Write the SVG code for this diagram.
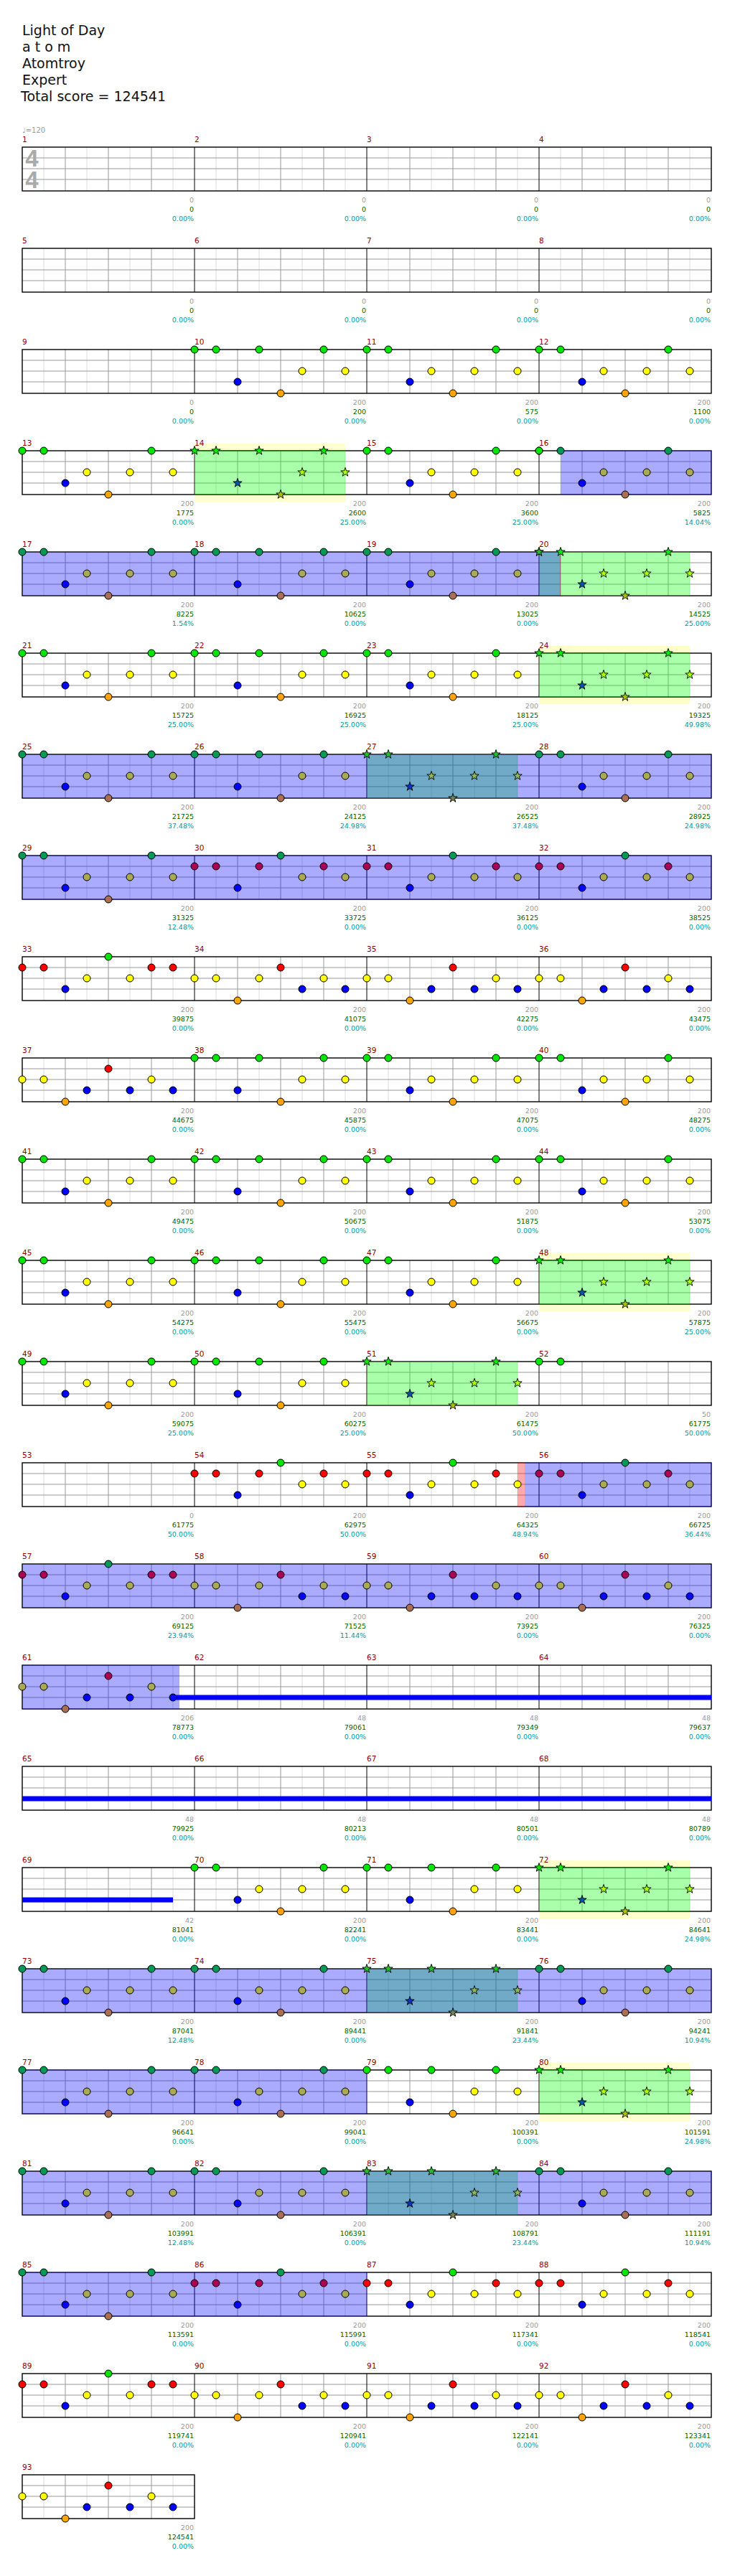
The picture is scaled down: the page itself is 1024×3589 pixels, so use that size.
<svg xmlns="http://www.w3.org/2000/svg" width="1024" height="3589" viewBox="0 0 1024 3589">
<style>
svg{--g:#00e600;--r:#ff0000;--y:#ffff00;--b:#0000ff;--o:#ffa500}
.tb{--g:#009955;--r:#aa0055;--y:#aaaa55;--b:#0000ff;--o:#aa6e55}
.tg{--g:#00ee00;--r:#aa5500;--y:#aaff00;--b:#0055aa;--o:#aac300}
.tt{--g:#20c030;--r:#713955;--y:#8fb85a;--b:#0039c6;--o:#718255}
.n{stroke:#000;stroke-width:1}
.g{fill:var(--g)}.r{fill:var(--r)}.y{fill:var(--y)}.b{fill:var(--b)}.o{fill:var(--o)}
text{font-family:"DejaVu Sans","Liberation Sans",sans-serif}
.h{font-size:19px;fill:#111}
.mn{font-size:10.5px;fill:#8b0000}
.l{font-size:9.5px;text-anchor:end}
.l1{fill:#999}.l2{fill:#006400}.l3{fill:#009b9b}
.bl{fill:#00f;fill-opacity:.333}
.gr{fill:#0f0;fill-opacity:.333}
.pk{fill:#f00;fill-opacity:.333}
.yb{fill:#ffffcc}
.sus{fill:#00f}
.ts{font-family:"Liberation Sans",sans-serif;font-weight:bold;font-size:33px;fill:#aaa;text-anchor:middle}
.tp{font-size:10px;fill:#999}
</style>
<defs>
<path id="st" d="M0-6.5L1.53-2.1L6.18-2.01L2.47.8L3.82 5.26L0 2.6L-3.82 5.26L-2.47.8L-6.18-2.01L-1.53-2.1Z" stroke="#000" stroke-width=".9"/>
<g id="row">
<rect x="31" y="0" width="960" height="61" fill="#fff"/>
<path stroke="#dcdcdc" fill="none" d="M61 0v61M121 0v61M181 0v61M241 0v61M301 0v61M361 0v61M421 0v61M481 0v61M541 0v61M601 0v61M661 0v61M721 0v61M781 0v61M841 0v61M901 0v61M961 0v61"/>
<path stroke="#999" fill="none" d="M91 0v61M151 0v61M211 0v61M331 0v61M391 0v61M451 0v61M571 0v61M631 0v61M691 0v61M811 0v61M871 0v61M931 0v61M31 15H991M31 30H991M31 45H991"/>
<path stroke="#000" fill="none" d="M271 0v61M511 0v61M751 0v61"/>
<rect x="31" y="0" width="960" height="61" fill="none" stroke="#000" stroke-width="1.4"/>
</g>
<g id="one">
<rect x="31" y="0" width="240" height="61" fill="#fff"/>
<path stroke="#dcdcdc" fill="none" d="M61 0v61M121 0v61M181 0v61M241 0v61"/>
<path stroke="#999" fill="none" d="M91 0v61M151 0v61M211 0v61M31 15H271M31 30H271M31 45H271"/>
<rect x="31" y="0" width="240" height="61" fill="none" stroke="#000" stroke-width="1.4"/>
</g>
<g id="P"><circle class="n g" cx="0" cy="0" r="5"/><circle class="n g" cx="30" cy="0" r="5"/><circle class="n b" cx="60" cy="45" r="5"/><circle class="n y" cx="90" cy="30" r="5"/><circle class="n o" cx="120" cy="61" r="5"/><circle class="n y" cx="150" cy="30" r="5"/><circle class="n g" cx="180" cy="0" r="5"/><circle class="n y" cx="210" cy="30" r="5"/></g>
<g id="Q"><circle class="n g" cx="0" cy="0" r="5"/><circle class="n g" cx="30" cy="0" r="5"/><circle class="n b" cx="60" cy="45" r="5"/><circle class="n g" cx="90" cy="0" r="5"/><circle class="n o" cx="120" cy="61" r="5"/><circle class="n y" cx="150" cy="30" r="5"/><circle class="n g" cx="180" cy="0" r="5"/><circle class="n y" cx="210" cy="30" r="5"/></g>
<g id="R1"><circle class="n r" cx="0" cy="15" r="5"/><circle class="n r" cx="30" cy="15" r="5"/><circle class="n b" cx="60" cy="45" r="5"/><circle class="n r" cx="90" cy="15" r="5"/><circle class="n g" cx="120" cy="0" r="5"/><circle class="n y" cx="150" cy="30" r="5"/><circle class="n r" cx="180" cy="15" r="5"/><circle class="n y" cx="210" cy="30" r="5"/></g>
<g id="R2"><circle class="n r" cx="0" cy="15" r="5"/><circle class="n r" cx="30" cy="15" r="5"/><circle class="n b" cx="60" cy="45" r="5"/><circle class="n y" cx="90" cy="30" r="5"/><circle class="n g" cx="120" cy="0" r="5"/><circle class="n y" cx="150" cy="30" r="5"/><circle class="n r" cx="180" cy="15" r="5"/><circle class="n y" cx="210" cy="30" r="5"/></g>
<g id="S1"><circle class="n r" cx="0" cy="15" r="5"/><circle class="n r" cx="30" cy="15" r="5"/><circle class="n b" cx="60" cy="45" r="5"/><circle class="n y" cx="90" cy="30" r="5"/><circle class="n g" cx="120" cy="0" r="5"/><circle class="n y" cx="150" cy="30" r="5"/><circle class="n r" cx="180" cy="15" r="5"/><circle class="n r" cx="210" cy="15" r="5"/></g>
<g id="S2"><circle class="n y" cx="0" cy="30" r="5"/><circle class="n y" cx="30" cy="30" r="5"/><circle class="n o" cx="60" cy="61" r="5"/><circle class="n y" cx="90" cy="30" r="5"/><circle class="n r" cx="120" cy="15" r="5"/><circle class="n b" cx="150" cy="45" r="5"/><circle class="n y" cx="180" cy="30" r="5"/><circle class="n b" cx="210" cy="45" r="5"/></g>
<g id="S3"><circle class="n y" cx="0" cy="30" r="5"/><circle class="n y" cx="30" cy="30" r="5"/><circle class="n o" cx="60" cy="61" r="5"/><circle class="n b" cx="90" cy="45" r="5"/><circle class="n r" cx="120" cy="15" r="5"/><circle class="n b" cx="150" cy="45" r="5"/><circle class="n y" cx="180" cy="30" r="5"/><circle class="n b" cx="210" cy="45" r="5"/></g>
<g id="PS"><use href="#st" class="g" x="0" y="0"/><use href="#st" class="g" x="30" y="0"/><use href="#st" class="b" x="60" y="45"/><use href="#st" class="y" x="90" y="30"/><use href="#st" class="o" x="120" y="61"/><use href="#st" class="y" x="150" y="30"/><use href="#st" class="g" x="180" y="0"/><use href="#st" class="y" x="210" y="30"/></g>
<g id="QS"><use href="#st" class="g" x="0" y="0"/><use href="#st" class="g" x="30" y="0"/><use href="#st" class="b" x="60" y="45"/><use href="#st" class="g" x="90" y="0"/><use href="#st" class="o" x="120" y="61"/><use href="#st" class="y" x="150" y="30"/><use href="#st" class="g" x="180" y="0"/><use href="#st" class="y" x="210" y="30"/></g>
</defs>
<rect width="1024" height="3589" fill="#fff"/>
<g id="header">
<text class="h" x="31" y="49">Light of Day</text>
<text class="h" x="31" y="72">a t o m</text>
<text class="h" x="31" y="95">Atomtroy</text>
<text class="h" x="31" y="118">Expert</text>
<text class="h" x="29" y="141">Total score = 124541</text>
<text class="tp" x="31" y="185">♩=120</text>
</g>
<g id="r1" transform="translate(0,205)"><use href="#row"/>
<text class="ts" x="44.5" y="27">4</text><text class="ts" x="44.5" y="57">4</text>
<g id="m1" transform="translate(31,0)"><text class="mn" y="-7">1</text><text class="l l1" x="239" y="77">0</text><text class="l l2" x="239" y="90">0</text><text class="l l3" x="239" y="103">0.00%</text></g>
<g id="m2" transform="translate(271,0)"><text class="mn" y="-7">2</text><text class="l l1" x="239" y="77">0</text><text class="l l2" x="239" y="90">0</text><text class="l l3" x="239" y="103">0.00%</text></g>
<g id="m3" transform="translate(511,0)"><text class="mn" y="-7">3</text><text class="l l1" x="239" y="77">0</text><text class="l l2" x="239" y="90">0</text><text class="l l3" x="239" y="103">0.00%</text></g>
<g id="m4" transform="translate(751,0)"><text class="mn" y="-7">4</text><text class="l l1" x="239" y="77">0</text><text class="l l2" x="239" y="90">0</text><text class="l l3" x="239" y="103">0.00%</text></g>
</g>
<g id="r2" transform="translate(0,346)"><use href="#row"/>
<g id="m5" transform="translate(31,0)"><text class="mn" y="-7">5</text><text class="l l1" x="239" y="77">0</text><text class="l l2" x="239" y="90">0</text><text class="l l3" x="239" y="103">0.00%</text></g>
<g id="m6" transform="translate(271,0)"><text class="mn" y="-7">6</text><text class="l l1" x="239" y="77">0</text><text class="l l2" x="239" y="90">0</text><text class="l l3" x="239" y="103">0.00%</text></g>
<g id="m7" transform="translate(511,0)"><text class="mn" y="-7">7</text><text class="l l1" x="239" y="77">0</text><text class="l l2" x="239" y="90">0</text><text class="l l3" x="239" y="103">0.00%</text></g>
<g id="m8" transform="translate(751,0)"><text class="mn" y="-7">8</text><text class="l l1" x="239" y="77">0</text><text class="l l2" x="239" y="90">0</text><text class="l l3" x="239" y="103">0.00%</text></g>
</g>
<g id="r3" transform="translate(0,487)"><use href="#row"/>
<g id="m9" transform="translate(31,0)"><text class="mn" y="-7">9</text><text class="l l1" x="239" y="77">0</text><text class="l l2" x="239" y="90">0</text><text class="l l3" x="239" y="103">0.00%</text></g>
<g id="m10" transform="translate(271,0)"><text class="mn" y="-7">10</text><use href="#Q"/><text class="l l1" x="239" y="77">200</text><text class="l l2" x="239" y="90">200</text><text class="l l3" x="239" y="103">0.00%</text></g>
<g id="m11" transform="translate(511,0)"><text class="mn" y="-7">11</text><use href="#P"/><text class="l l1" x="239" y="77">200</text><text class="l l2" x="239" y="90">575</text><text class="l l3" x="239" y="103">0.00%</text></g>
<g id="m12" transform="translate(751,0)"><text class="mn" y="-7">12</text><use href="#P"/><text class="l l1" x="239" y="77">200</text><text class="l l2" x="239" y="90">1100</text><text class="l l3" x="239" y="103">0.00%</text></g>
</g>
<g id="r4" transform="translate(0,628)"><rect class="yb" x="271" y="-10" width="210" height="81"/><use href="#row"/>
<rect class="gr" x="271" y="0" width="210" height="61"/><rect class="bl" x="781" y="0" width="210" height="61"/>
<g id="m13" transform="translate(31,0)"><text class="mn" y="-7">13</text><use href="#P"/><text class="l l1" x="239" y="77">200</text><text class="l l2" x="239" y="90">1775</text><text class="l l3" x="239" y="103">0.00%</text></g>
<g id="m14" transform="translate(271,0)"><text class="mn" y="-7">14</text><use href="#QS" class="tg"/><text class="l l1" x="239" y="77">200</text><text class="l l2" x="239" y="90">2600</text><text class="l l3" x="239" y="103">25.00%</text></g>
<g id="m15" transform="translate(511,0)"><text class="mn" y="-7">15</text><use href="#P"/><text class="l l1" x="239" y="77">200</text><text class="l l2" x="239" y="90">3600</text><text class="l l3" x="239" y="103">25.00%</text></g>
<g id="m16" transform="translate(751,0)"><text class="mn" y="-7">16</text><use href="#P" class="tb"/><circle class="n g" cx="0" cy="0" r="5"/><text class="l l1" x="239" y="77">200</text><text class="l l2" x="239" y="90">5825</text><text class="l l3" x="239" y="103">14.04%</text></g>
</g>
<g id="r5" transform="translate(0,769)"><use href="#row"/>
<rect class="gr" x="751" y="0" width="210" height="61"/><rect class="bl" x="31" y="0" width="750" height="61"/><rect class="pk" x="780" y="0" width="1.5" height="61"/>
<g id="m17" transform="translate(31,0)"><text class="mn" y="-7">17</text><use href="#P" class="tb"/><text class="l l1" x="239" y="77">200</text><text class="l l2" x="239" y="90">8225</text><text class="l l3" x="239" y="103">1.54%</text></g>
<g id="m18" transform="translate(271,0)"><text class="mn" y="-7">18</text><use href="#Q" class="tb"/><text class="l l1" x="239" y="77">200</text><text class="l l2" x="239" y="90">10625</text><text class="l l3" x="239" y="103">0.00%</text></g>
<g id="m19" transform="translate(511,0)"><text class="mn" y="-7">19</text><use href="#P" class="tb"/><text class="l l1" x="239" y="77">200</text><text class="l l2" x="239" y="90">13025</text><text class="l l3" x="239" y="103">0.00%</text></g>
<g id="m20" transform="translate(751,0)"><text class="mn" y="-7">20</text><use href="#PS" class="tg"/><use href="#st" class="g tt" x="0" y="0"/><text class="l l1" x="239" y="77">200</text><text class="l l2" x="239" y="90">14525</text><text class="l l3" x="239" y="103">25.00%</text></g>
</g>
<g id="r6" transform="translate(0,910)"><rect class="yb" x="751" y="-10" width="210" height="81"/><use href="#row"/>
<rect class="gr" x="751" y="0" width="210" height="61"/>
<g id="m21" transform="translate(31,0)"><text class="mn" y="-7">21</text><use href="#P"/><text class="l l1" x="239" y="77">200</text><text class="l l2" x="239" y="90">15725</text><text class="l l3" x="239" y="103">25.00%</text></g>
<g id="m22" transform="translate(271,0)"><text class="mn" y="-7">22</text><use href="#Q"/><text class="l l1" x="239" y="77">200</text><text class="l l2" x="239" y="90">16925</text><text class="l l3" x="239" y="103">25.00%</text></g>
<g id="m23" transform="translate(511,0)"><text class="mn" y="-7">23</text><use href="#P"/><text class="l l1" x="239" y="77">200</text><text class="l l2" x="239" y="90">18125</text><text class="l l3" x="239" y="103">25.00%</text></g>
<g id="m24" transform="translate(751,0)"><text class="mn" y="-7">24</text><use href="#PS" class="tg"/><text class="l l1" x="239" y="77">200</text><text class="l l2" x="239" y="90">19325</text><text class="l l3" x="239" y="103">49.98%</text></g>
</g>
<g id="r7" transform="translate(0,1051)"><use href="#row"/>
<rect class="gr" x="511" y="0" width="210" height="61"/><rect class="bl" x="31" y="0" width="960" height="61"/>
<g id="m25" transform="translate(31,0)"><text class="mn" y="-7">25</text><use href="#P" class="tb"/><text class="l l1" x="239" y="77">200</text><text class="l l2" x="239" y="90">21725</text><text class="l l3" x="239" y="103">37.48%</text></g>
<g id="m26" transform="translate(271,0)"><text class="mn" y="-7">26</text><use href="#Q" class="tb"/><text class="l l1" x="239" y="77">200</text><text class="l l2" x="239" y="90">24125</text><text class="l l3" x="239" y="103">24.98%</text></g>
<g id="m27" transform="translate(511,0)"><text class="mn" y="-7">27</text><use href="#PS" class="tt"/><text class="l l1" x="239" y="77">200</text><text class="l l2" x="239" y="90">26525</text><text class="l l3" x="239" y="103">37.48%</text></g>
<g id="m28" transform="translate(751,0)"><text class="mn" y="-7">28</text><use href="#P" class="tb"/><text class="l l1" x="239" y="77">200</text><text class="l l2" x="239" y="90">28925</text><text class="l l3" x="239" y="103">24.98%</text></g>
</g>
<g id="r8" transform="translate(0,1192)"><use href="#row"/>
<rect class="bl" x="31" y="0" width="960" height="61"/>
<g id="m29" transform="translate(31,0)"><text class="mn" y="-7">29</text><use href="#P" class="tb"/><text class="l l1" x="239" y="77">200</text><text class="l l2" x="239" y="90">31325</text><text class="l l3" x="239" y="103">12.48%</text></g>
<g id="m30" transform="translate(271,0)"><text class="mn" y="-7">30</text><use href="#R1" class="tb"/><text class="l l1" x="239" y="77">200</text><text class="l l2" x="239" y="90">33725</text><text class="l l3" x="239" y="103">0.00%</text></g>
<g id="m31" transform="translate(511,0)"><text class="mn" y="-7">31</text><use href="#R2" class="tb"/><text class="l l1" x="239" y="77">200</text><text class="l l2" x="239" y="90">36125</text><text class="l l3" x="239" y="103">0.00%</text></g>
<g id="m32" transform="translate(751,0)"><text class="mn" y="-7">32</text><use href="#R2" class="tb"/><text class="l l1" x="239" y="77">200</text><text class="l l2" x="239" y="90">38525</text><text class="l l3" x="239" y="103">0.00%</text></g>
</g>
<g id="r9" transform="translate(0,1333)"><use href="#row"/>
<g id="m33" transform="translate(31,0)"><text class="mn" y="-7">33</text><use href="#S1"/><text class="l l1" x="239" y="77">200</text><text class="l l2" x="239" y="90">39875</text><text class="l l3" x="239" y="103">0.00%</text></g>
<g id="m34" transform="translate(271,0)"><text class="mn" y="-7">34</text><use href="#S2"/><text class="l l1" x="239" y="77">200</text><text class="l l2" x="239" y="90">41075</text><text class="l l3" x="239" y="103">0.00%</text></g>
<g id="m35" transform="translate(511,0)"><text class="mn" y="-7">35</text><use href="#S3"/><text class="l l1" x="239" y="77">200</text><text class="l l2" x="239" y="90">42275</text><text class="l l3" x="239" y="103">0.00%</text></g>
<g id="m36" transform="translate(751,0)"><text class="mn" y="-7">36</text><use href="#S3"/><text class="l l1" x="239" y="77">200</text><text class="l l2" x="239" y="90">43475</text><text class="l l3" x="239" y="103">0.00%</text></g>
</g>
<g id="r10" transform="translate(0,1474)"><use href="#row"/>
<g id="m37" transform="translate(31,0)"><text class="mn" y="-7">37</text><use href="#S3"/><text class="l l1" x="239" y="77">200</text><text class="l l2" x="239" y="90">44675</text><text class="l l3" x="239" y="103">0.00%</text></g>
<g id="m38" transform="translate(271,0)"><text class="mn" y="-7">38</text><use href="#Q"/><text class="l l1" x="239" y="77">200</text><text class="l l2" x="239" y="90">45875</text><text class="l l3" x="239" y="103">0.00%</text></g>
<g id="m39" transform="translate(511,0)"><text class="mn" y="-7">39</text><use href="#P"/><text class="l l1" x="239" y="77">200</text><text class="l l2" x="239" y="90">47075</text><text class="l l3" x="239" y="103">0.00%</text></g>
<g id="m40" transform="translate(751,0)"><text class="mn" y="-7">40</text><use href="#P"/><text class="l l1" x="239" y="77">200</text><text class="l l2" x="239" y="90">48275</text><text class="l l3" x="239" y="103">0.00%</text></g>
</g>
<g id="r11" transform="translate(0,1615)"><use href="#row"/>
<g id="m41" transform="translate(31,0)"><text class="mn" y="-7">41</text><use href="#P"/><text class="l l1" x="239" y="77">200</text><text class="l l2" x="239" y="90">49475</text><text class="l l3" x="239" y="103">0.00%</text></g>
<g id="m42" transform="translate(271,0)"><text class="mn" y="-7">42</text><use href="#Q"/><text class="l l1" x="239" y="77">200</text><text class="l l2" x="239" y="90">50675</text><text class="l l3" x="239" y="103">0.00%</text></g>
<g id="m43" transform="translate(511,0)"><text class="mn" y="-7">43</text><use href="#P"/><text class="l l1" x="239" y="77">200</text><text class="l l2" x="239" y="90">51875</text><text class="l l3" x="239" y="103">0.00%</text></g>
<g id="m44" transform="translate(751,0)"><text class="mn" y="-7">44</text><use href="#P"/><text class="l l1" x="239" y="77">200</text><text class="l l2" x="239" y="90">53075</text><text class="l l3" x="239" y="103">0.00%</text></g>
</g>
<g id="r12" transform="translate(0,1756)"><rect class="yb" x="751" y="-10" width="210" height="81"/><use href="#row"/>
<rect class="gr" x="751" y="0" width="210" height="61"/>
<g id="m45" transform="translate(31,0)"><text class="mn" y="-7">45</text><use href="#P"/><text class="l l1" x="239" y="77">200</text><text class="l l2" x="239" y="90">54275</text><text class="l l3" x="239" y="103">0.00%</text></g>
<g id="m46" transform="translate(271,0)"><text class="mn" y="-7">46</text><use href="#Q"/><text class="l l1" x="239" y="77">200</text><text class="l l2" x="239" y="90">55475</text><text class="l l3" x="239" y="103">0.00%</text></g>
<g id="m47" transform="translate(511,0)"><text class="mn" y="-7">47</text><use href="#P"/><text class="l l1" x="239" y="77">200</text><text class="l l2" x="239" y="90">56675</text><text class="l l3" x="239" y="103">0.00%</text></g>
<g id="m48" transform="translate(751,0)"><text class="mn" y="-7">48</text><use href="#PS" class="tg"/><text class="l l1" x="239" y="77">200</text><text class="l l2" x="239" y="90">57875</text><text class="l l3" x="239" y="103">25.00%</text></g>
</g>
<g id="r13" transform="translate(0,1897)"><use href="#row"/>
<rect class="gr" x="511" y="0" width="210" height="61"/>
<g id="m49" transform="translate(31,0)"><text class="mn" y="-7">49</text><use href="#P"/><text class="l l1" x="239" y="77">200</text><text class="l l2" x="239" y="90">59075</text><text class="l l3" x="239" y="103">25.00%</text></g>
<g id="m50" transform="translate(271,0)"><text class="mn" y="-7">50</text><use href="#Q"/><text class="l l1" x="239" y="77">200</text><text class="l l2" x="239" y="90">60275</text><text class="l l3" x="239" y="103">25.00%</text></g>
<g id="m51" transform="translate(511,0)"><text class="mn" y="-7">51</text><use href="#PS" class="tg"/><text class="l l1" x="239" y="77">200</text><text class="l l2" x="239" y="90">61475</text><text class="l l3" x="239" y="103">50.00%</text></g>
<g id="m52" transform="translate(751,0)"><text class="mn" y="-7">52</text><circle class="n g" cx="0" cy="0" r="5"/><circle class="n g" cx="30" cy="0" r="5"/><text class="l l1" x="239" y="77">50</text><text class="l l2" x="239" y="90">61775</text><text class="l l3" x="239" y="103">50.00%</text></g>
</g>
<g id="r14" transform="translate(0,2038)"><use href="#row"/>
<rect class="pk" x="721" y="0" width="10" height="61"/><rect class="bl" x="731" y="0" width="260" height="61"/>
<g id="m53" transform="translate(31,0)"><text class="mn" y="-7">53</text><text class="l l1" x="239" y="77">0</text><text class="l l2" x="239" y="90">61775</text><text class="l l3" x="239" y="103">50.00%</text></g>
<g id="m54" transform="translate(271,0)"><text class="mn" y="-7">54</text><use href="#R1"/><text class="l l1" x="239" y="77">200</text><text class="l l2" x="239" y="90">62975</text><text class="l l3" x="239" y="103">50.00%</text></g>
<g id="m55" transform="translate(511,0)"><text class="mn" y="-7">55</text><use href="#R2"/><text class="l l1" x="239" y="77">200</text><text class="l l2" x="239" y="90">64325</text><text class="l l3" x="239" y="103">48.94%</text></g>
<g id="m56" transform="translate(751,0)"><text class="mn" y="-7">56</text><use href="#R2" class="tb"/><text class="l l1" x="239" y="77">200</text><text class="l l2" x="239" y="90">66725</text><text class="l l3" x="239" y="103">36.44%</text></g>
</g>
<g id="r15" transform="translate(0,2179)"><use href="#row"/>
<rect class="bl" x="31" y="0" width="960" height="61"/>
<g id="m57" transform="translate(31,0)"><text class="mn" y="-7">57</text><use href="#S1" class="tb"/><text class="l l1" x="239" y="77">200</text><text class="l l2" x="239" y="90">69125</text><text class="l l3" x="239" y="103">23.94%</text></g>
<g id="m58" transform="translate(271,0)"><text class="mn" y="-7">58</text><use href="#S2" class="tb"/><text class="l l1" x="239" y="77">200</text><text class="l l2" x="239" y="90">71525</text><text class="l l3" x="239" y="103">11.44%</text></g>
<g id="m59" transform="translate(511,0)"><text class="mn" y="-7">59</text><use href="#S3" class="tb"/><text class="l l1" x="239" y="77">200</text><text class="l l2" x="239" y="90">73925</text><text class="l l3" x="239" y="103">0.00%</text></g>
<g id="m60" transform="translate(751,0)"><text class="mn" y="-7">60</text><use href="#S3" class="tb"/><text class="l l1" x="239" y="77">200</text><text class="l l2" x="239" y="90">76325</text><text class="l l3" x="239" y="103">0.00%</text></g>
</g>
<g id="r16" transform="translate(0,2320)"><use href="#row"/>
<rect class="bl" x="31" y="0" width="219" height="61"/><rect class="sus" x="241" y="41.5" width="750" height="7"/>
<g id="m61" transform="translate(31,0)"><text class="mn" y="-7">61</text><use href="#S3" class="tb"/><text class="l l1" x="239" y="77">206</text><text class="l l2" x="239" y="90">78773</text><text class="l l3" x="239" y="103">0.00%</text></g>
<g id="m62" transform="translate(271,0)"><text class="mn" y="-7">62</text><text class="l l1" x="239" y="77">48</text><text class="l l2" x="239" y="90">79061</text><text class="l l3" x="239" y="103">0.00%</text></g>
<g id="m63" transform="translate(511,0)"><text class="mn" y="-7">63</text><text class="l l1" x="239" y="77">48</text><text class="l l2" x="239" y="90">79349</text><text class="l l3" x="239" y="103">0.00%</text></g>
<g id="m64" transform="translate(751,0)"><text class="mn" y="-7">64</text><text class="l l1" x="239" y="77">48</text><text class="l l2" x="239" y="90">79637</text><text class="l l3" x="239" y="103">0.00%</text></g>
</g>
<g id="r17" transform="translate(0,2461)"><use href="#row"/>
<rect class="sus" x="31" y="41.5" width="960" height="7"/>
<g id="m65" transform="translate(31,0)"><text class="mn" y="-7">65</text><text class="l l1" x="239" y="77">48</text><text class="l l2" x="239" y="90">79925</text><text class="l l3" x="239" y="103">0.00%</text></g>
<g id="m66" transform="translate(271,0)"><text class="mn" y="-7">66</text><text class="l l1" x="239" y="77">48</text><text class="l l2" x="239" y="90">80213</text><text class="l l3" x="239" y="103">0.00%</text></g>
<g id="m67" transform="translate(511,0)"><text class="mn" y="-7">67</text><text class="l l1" x="239" y="77">48</text><text class="l l2" x="239" y="90">80501</text><text class="l l3" x="239" y="103">0.00%</text></g>
<g id="m68" transform="translate(751,0)"><text class="mn" y="-7">68</text><text class="l l1" x="239" y="77">48</text><text class="l l2" x="239" y="90">80789</text><text class="l l3" x="239" y="103">0.00%</text></g>
</g>
<g id="r18" transform="translate(0,2602)"><rect class="yb" x="751" y="-10" width="210" height="81"/><use href="#row"/>
<rect class="gr" x="751" y="0" width="210" height="61"/><rect class="sus" x="31" y="41.5" width="210" height="7"/>
<g id="m69" transform="translate(31,0)"><text class="mn" y="-7">69</text><text class="l l1" x="239" y="77">42</text><text class="l l2" x="239" y="90">81041</text><text class="l l3" x="239" y="103">0.00%</text></g>
<g id="m70" transform="translate(271,0)"><text class="mn" y="-7">70</text><use href="#P"/><text class="l l1" x="239" y="77">200</text><text class="l l2" x="239" y="90">82241</text><text class="l l3" x="239" y="103">0.00%</text></g>
<g id="m71" transform="translate(511,0)"><text class="mn" y="-7">71</text><use href="#Q"/><text class="l l1" x="239" y="77">200</text><text class="l l2" x="239" y="90">83441</text><text class="l l3" x="239" y="103">0.00%</text></g>
<g id="m72" transform="translate(751,0)"><text class="mn" y="-7">72</text><use href="#PS" class="tg"/><text class="l l1" x="239" y="77">200</text><text class="l l2" x="239" y="90">84641</text><text class="l l3" x="239" y="103">24.98%</text></g>
</g>
<g id="r19" transform="translate(0,2743)"><use href="#row"/>
<rect class="gr" x="511" y="0" width="210" height="61"/><rect class="bl" x="31" y="0" width="960" height="61"/>
<g id="m73" transform="translate(31,0)"><text class="mn" y="-7">73</text><use href="#P" class="tb"/><text class="l l1" x="239" y="77">200</text><text class="l l2" x="239" y="90">87041</text><text class="l l3" x="239" y="103">12.48%</text></g>
<g id="m74" transform="translate(271,0)"><text class="mn" y="-7">74</text><use href="#P" class="tb"/><text class="l l1" x="239" y="77">200</text><text class="l l2" x="239" y="90">89441</text><text class="l l3" x="239" y="103">0.00%</text></g>
<g id="m75" transform="translate(511,0)"><text class="mn" y="-7">75</text><use href="#QS" class="tt"/><text class="l l1" x="239" y="77">200</text><text class="l l2" x="239" y="90">91841</text><text class="l l3" x="239" y="103">23.44%</text></g>
<g id="m76" transform="translate(751,0)"><text class="mn" y="-7">76</text><use href="#P" class="tb"/><text class="l l1" x="239" y="77">200</text><text class="l l2" x="239" y="90">94241</text><text class="l l3" x="239" y="103">10.94%</text></g>
</g>
<g id="r20" transform="translate(0,2884)"><rect class="yb" x="751" y="-10" width="210" height="81"/><use href="#row"/>
<rect class="bl" x="31" y="0" width="480" height="61"/><rect class="gr" x="751" y="0" width="210" height="61"/>
<g id="m77" transform="translate(31,0)"><text class="mn" y="-7">77</text><use href="#P" class="tb"/><text class="l l1" x="239" y="77">200</text><text class="l l2" x="239" y="90">96641</text><text class="l l3" x="239" y="103">0.00%</text></g>
<g id="m78" transform="translate(271,0)"><text class="mn" y="-7">78</text><use href="#P" class="tb"/><text class="l l1" x="239" y="77">200</text><text class="l l2" x="239" y="90">99041</text><text class="l l3" x="239" y="103">0.00%</text></g>
<g id="m79" transform="translate(511,0)"><text class="mn" y="-7">79</text><use href="#Q"/><text class="l l1" x="239" y="77">200</text><text class="l l2" x="239" y="90">100391</text><text class="l l3" x="239" y="103">0.00%</text></g>
<g id="m80" transform="translate(751,0)"><text class="mn" y="-7">80</text><use href="#PS" class="tg"/><text class="l l1" x="239" y="77">200</text><text class="l l2" x="239" y="90">101591</text><text class="l l3" x="239" y="103">24.98%</text></g>
</g>
<g id="r21" transform="translate(0,3025)"><use href="#row"/>
<rect class="gr" x="511" y="0" width="210" height="61"/><rect class="bl" x="31" y="0" width="960" height="61"/>
<g id="m81" transform="translate(31,0)"><text class="mn" y="-7">81</text><use href="#P" class="tb"/><text class="l l1" x="239" y="77">200</text><text class="l l2" x="239" y="90">103991</text><text class="l l3" x="239" y="103">12.48%</text></g>
<g id="m82" transform="translate(271,0)"><text class="mn" y="-7">82</text><use href="#P" class="tb"/><text class="l l1" x="239" y="77">200</text><text class="l l2" x="239" y="90">106391</text><text class="l l3" x="239" y="103">0.00%</text></g>
<g id="m83" transform="translate(511,0)"><text class="mn" y="-7">83</text><use href="#QS" class="tt"/><text class="l l1" x="239" y="77">200</text><text class="l l2" x="239" y="90">108791</text><text class="l l3" x="239" y="103">23.44%</text></g>
<g id="m84" transform="translate(751,0)"><text class="mn" y="-7">84</text><use href="#P" class="tb"/><text class="l l1" x="239" y="77">200</text><text class="l l2" x="239" y="90">111191</text><text class="l l3" x="239" y="103">10.94%</text></g>
</g>
<g id="r22" transform="translate(0,3166)"><use href="#row"/>
<rect class="bl" x="31" y="0" width="480" height="61"/>
<g id="m85" transform="translate(31,0)"><text class="mn" y="-7">85</text><use href="#P" class="tb"/><text class="l l1" x="239" y="77">200</text><text class="l l2" x="239" y="90">113591</text><text class="l l3" x="239" y="103">0.00%</text></g>
<g id="m86" transform="translate(271,0)"><text class="mn" y="-7">86</text><use href="#R1" class="tb"/><text class="l l1" x="239" y="77">200</text><text class="l l2" x="239" y="90">115991</text><text class="l l3" x="239" y="103">0.00%</text></g>
<g id="m87" transform="translate(511,0)"><text class="mn" y="-7">87</text><use href="#R2"/><text class="l l1" x="239" y="77">200</text><text class="l l2" x="239" y="90">117341</text><text class="l l3" x="239" y="103">0.00%</text></g>
<g id="m88" transform="translate(751,0)"><text class="mn" y="-7">88</text><use href="#R2"/><text class="l l1" x="239" y="77">200</text><text class="l l2" x="239" y="90">118541</text><text class="l l3" x="239" y="103">0.00%</text></g>
</g>
<g id="r23" transform="translate(0,3307)"><use href="#row"/>
<g id="m89" transform="translate(31,0)"><text class="mn" y="-7">89</text><use href="#S1"/><text class="l l1" x="239" y="77">200</text><text class="l l2" x="239" y="90">119741</text><text class="l l3" x="239" y="103">0.00%</text></g>
<g id="m90" transform="translate(271,0)"><text class="mn" y="-7">90</text><use href="#S2"/><text class="l l1" x="239" y="77">200</text><text class="l l2" x="239" y="90">120941</text><text class="l l3" x="239" y="103">0.00%</text></g>
<g id="m91" transform="translate(511,0)"><text class="mn" y="-7">91</text><use href="#S3"/><text class="l l1" x="239" y="77">200</text><text class="l l2" x="239" y="90">122141</text><text class="l l3" x="239" y="103">0.00%</text></g>
<g id="m92" transform="translate(751,0)"><text class="mn" y="-7">92</text><use href="#S3"/><text class="l l1" x="239" y="77">200</text><text class="l l2" x="239" y="90">123341</text><text class="l l3" x="239" y="103">0.00%</text></g>
</g>
<g id="r24" transform="translate(0,3448)"><use href="#one"/>
<g id="m93" transform="translate(31,0)"><text class="mn" y="-7">93</text><use href="#S3"/><text class="l l1" x="239" y="77">200</text><text class="l l2" x="239" y="90">124541</text><text class="l l3" x="239" y="103">0.00%</text></g>
</g>
</svg>
